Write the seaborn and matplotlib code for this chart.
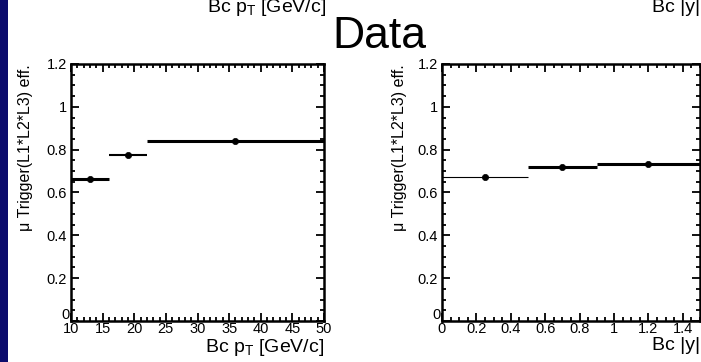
import matplotlib
matplotlib.use("Agg")
import matplotlib.pyplot as plt
import seaborn as sns
import pandas as pd
from matplotlib.ticker import MultipleLocator, FuncFormatter
from matplotlib.patches import Rectangle

# ---- data ----
pt_edges = [10, 16, 22, 50]
pt_centers = [13, 19, 36]
pt_eff = [0.665, 0.777, 0.84]

rap_edges = [0.0, 0.5, 0.9, 1.5]
rap_centers = [0.25, 0.7, 1.2]
rap_eff = [0.674, 0.72, 0.735]

y_label = "μ Trigger(L1*L2*L3) eff."
pt_xlabel = r"Bc p$_\mathregular{T}$ [GeV/c]"
rap_xlabel = "Bc |y|"
title = "Data"

# ---- styles ----
pt_lw = [2.2, 1.5, 2.2]
rap_lw = [0.8, 2.2, 2.2]

sns.set_style("ticks")
plt.rcParams["font.family"] = ["Liberation Sans", "DejaVu Sans"]
plt.rcParams["mathtext.fontset"] = "custom"
plt.rcParams["mathtext.rm"] = "Liberation Sans"
plt.rcParams["text.color"] = "black"
plt.rcParams["axes.labelcolor"] = "black"
plt.rcParams["xtick.color"] = "black"
plt.rcParams["ytick.color"] = "black"
plt.rcParams["xtick.labelcolor"] = "black"
plt.rcParams["ytick.labelcolor"] = "black"

W, H = 701, 362
fig = plt.figure(figsize=(W / 100, H / 100), dpi=100)
fig.patch.set_facecolor("white")

# dark blue slide border on the left
fig.add_artist(Rectangle((0, 0), 7.5 / W, 1, transform=fig.transFigure,
                         facecolor="#0b0b6c", edgecolor="none", zorder=0))


def ax_rect(x0, y0, x1, y1):
    return [x0 / W, 1 - y1 / H, (x1 - x0) / W, (y1 - y0) / H]


def style_axes(ax, xmaj, xmin):
    ax.set_ylim(0, 1.2)
    ax.xaxis.set_major_locator(MultipleLocator(xmaj))
    ax.xaxis.set_minor_locator(MultipleLocator(xmin))
    ax.yaxis.set_major_locator(MultipleLocator(0.2))
    ax.yaxis.set_minor_locator(MultipleLocator(0.05))
    fmt = FuncFormatter(lambda v, p: f"{round(v, 6):g}")
    yfmt = FuncFormatter(lambda v, p: "" if abs(v) < 1e-9 else f"{round(v, 6):g}")
    ax.xaxis.set_major_formatter(fmt)
    ax.yaxis.set_major_formatter(yfmt)
    ax.tick_params(which="both", direction="in", top=True, right=True,
                   width=1.3, color="black", labelcolor="black")
    ax.tick_params(which="major", length=6, labelsize=10.5)
    ax.tick_params(which="minor", length=3)
    ax.tick_params(axis="x", which="major", pad=1)
    ax.tick_params(axis="y", which="major", pad=3)
    for s in ax.spines.values():
        s.set_linewidth(1.8)
        s.set_color("black")
        s.set_visible(True)
    ax.set_facecolor("white")
    # ROOT-style zero label tucked into the lower-left corner
    ax.annotate("0", xy=(0, 0), xycoords="axes fraction", xytext=(-1, 4),
                textcoords="offset points", ha="right", va="center",
                fontsize=10.5, color="black")


def draw(ax, edges, centers, eff, lws):
    df = pd.DataFrame({"x": centers, "eff": eff})
    for i in range(len(centers)):
        ax.hlines(eff[i], edges[i], edges[i + 1], colors="black",
                  linewidth=lws[i], zorder=3)
    sns.scatterplot(data=df, x="x", y="eff", ax=ax, color="black",
                    s=20, edgecolor="black", linewidth=0.5, zorder=4)


# left panel: pT
ax1 = fig.add_axes(ax_rect(71, 64, 324, 321))
draw(ax1, pt_edges, pt_centers, pt_eff, pt_lw)
ax1.set_xlim(pt_edges[0], pt_edges[-1])
style_axes(ax1, 5, 1)
ax1.set_ylabel(y_label, fontsize=11.5, loc="top", color="black")
ax1.yaxis.set_label_coords((33 - 71) / 253, 1.0)
ax1.set_xlabel(pt_xlabel, fontsize=14, loc="right", color="black")
ax1.xaxis.set_label_coords(1.0, (321 - 337) / 257)

# right panel: |y|
ax2 = fig.add_axes(ax_rect(442, 64, 700, 321))
draw(ax2, rap_edges, rap_centers, rap_eff, rap_lw)
ax2.set_xlim(rap_edges[0], rap_edges[-1])
style_axes(ax2, 0.2, 0.05)
ax2.set_ylabel(y_label, fontsize=11.5, loc="top", color="black")
ax2.yaxis.set_label_coords((407 - 442) / 258, 1.0)
ax2.set_xlabel(rap_xlabel, fontsize=14, loc="right", color="black")
ax2.xaxis.set_label_coords(1.0, (321 - 337) / 257)

# slide title and remnants of the previous plots' labels at the top
fig.text(379 / W, 1 - 48 / H, title, fontsize=32, ha="center",
         va="baseline", color="black")
fig.text(326 / W, 1 - 12 / H, pt_xlabel, fontsize=14, ha="right",
         va="baseline", color="black")
fig.text(700 / W, 1 - 12 / H, rap_xlabel, fontsize=14, ha="right",
         va="baseline", color="black")

fig.savefig("out.png", dpi=100)
